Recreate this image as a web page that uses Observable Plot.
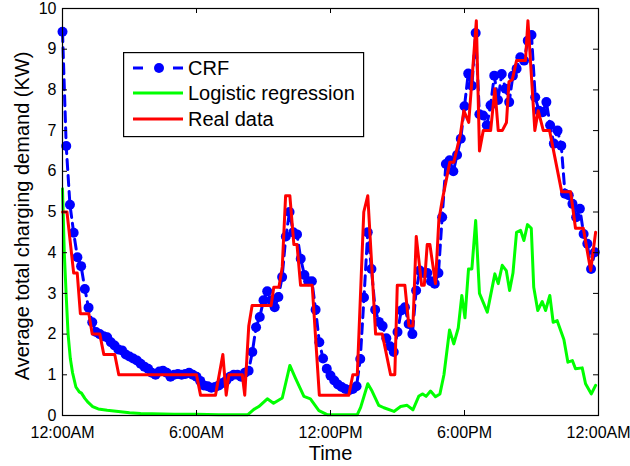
<!DOCTYPE html>
<html>
<head>
<meta charset="utf-8">
<script src="https://cdn.jsdelivr.net/npm/d3@7"></script>
<script src="https://cdn.jsdelivr.net/npm/@observablehq/plot@0.6"></script>
<style>
  html, body { margin: 0; padding: 0; background: white; }
  #wrap { position: relative; width: 630px; height: 466px; font-family: "Liberation Sans", Arial, Helvetica, sans-serif; }
  #legend { position: absolute; left: 123px; top: 52px; }
</style>
</head>
<body>
<div id="wrap"></div>
<script>
// ---- Tick values and labels ----
const xTicks = [0, 6, 12, 18, 24];
const xTickLabels = ["12:00AM", "6:00AM", "12:00PM", "6:00PM", "12:00AM"];
const yTicks = [0, 1, 2, 3, 4, 5, 6, 7, 8, 9, 10];

// ---- Series names ----
const seriesNames = ["CRF", "Logistic regression", "Real data"];

// ---- CRF (10-minute samples, value in KW) ----
const crfValues = [
  9.43, 6.62, 5.18, 4.49, 3.89, 3.67, 3.11, 2.65, 2.29, 2.05,
  2.0, 1.95, 1.92, 1.8, 1.72, 1.62, 1.6, 1.5, 1.45, 1.4,
  1.35, 1.27, 1.2, 1.15, 1.05, 1.0, 1.08, 1.1, 1.05, 0.95,
  1.0, 1.02, 1.0, 1.02, 1.05, 1.0, 0.95, 0.85, 0.74, 0.72,
  0.68, 0.7, 0.74, 0.8, 0.86, 0.95, 1.0, 1.0, 0.95, 1.05,
  1.1, 1.56, 2.17, 2.42, 2.83, 3.05, 2.83, 2.66, 2.91, 3.4,
  4.4, 5.0, 4.5, 4.45, 3.85, 3.45, 3.3, 3.3, 2.6, 1.8,
  1.4, 1.15, 0.98, 0.86, 0.76, 0.7, 0.65, 0.62, 0.65, 0.72,
  1.39, 2.9, 4.5, 3.6, 2.6, 2.3, 2.2, 1.9, 1.7, 1.56,
  2.05, 2.58, 2.66, 2.25, 2.0, 3.07, 3.56, 3.5, 3.5, 3.3,
  3.24, 3.5, 4.87, 6.18, 6.27, 6.0, 6.4, 6.8, 7.6, 8.4,
  8.1, 9.4, 7.4, 7.37, 7.13, 7.62, 8.35, 7.75, 8.39, 8.03,
  7.7, 8.35, 8.52, 8.8, 8.72, 9.21, 9.35, 7.82, 7.49, 7.45,
  7.7, 7.13, 6.68, 7.0, 6.63, 5.45, 5.41, 5.2, 4.87, 5.08,
  4.46, 4.22, 3.6, 4.01
];
const crfHours = crfValues.map((_, i) => i / 6);

// ---- Logistic regression ----
const lrHours = [
  0, 0.08, 0.17, 0.25, 0.35, 0.45, 0.6, 0.75, 0.85, 1.0,
  1.15, 1.35, 1.6, 2.0, 2.5, 3.0, 3.5, 4.0, 5.0, 6.0,
  7.0, 8.3, 8.57, 8.79, 9.17, 9.45, 9.84, 10.18, 10.43, 10.81,
  11.1, 11.48, 11.85, 13.2, 13.35, 13.67, 13.86, 14.16, 14.39, 14.84,
  15.14, 15.43, 15.69, 15.96, 16.13, 16.28, 16.48, 16.7, 16.9, 17.08,
  17.33, 17.52, 17.72, 17.88, 18.02, 18.18, 18.33, 18.5, 18.67, 19.02,
  19.36, 19.51, 19.69, 19.87, 20.02, 20.17, 20.33, 20.51, 20.66, 20.82,
  20.99, 21.1, 21.28, 21.48, 21.63, 21.82, 21.97, 22.15, 22.45, 22.63,
  22.83, 22.97, 23.27, 23.42, 23.68, 23.87
];
const lrValues = [
  5.57, 4.0, 2.9, 2.0, 1.4, 1.05, 0.7, 0.58, 0.55, 0.42,
  0.32, 0.22, 0.16, 0.13, 0.1, 0.07, 0.05, 0.04, 0.03, 0.03,
  0.02, 0.02, 0.15, 0.22, 0.41, 0.3, 0.43, 1.23, 0.92, 0.47,
  0.41, 0.12, 0.02, 0.02, 0.2, 0.78, 0.6, 0.25, 0.19, 0.1,
  0.22, 0.25, 0.14, 0.48, 0.53, 0.47, 0.6, 0.46, 0.53, 1.0,
  2.1, 1.76, 2.15, 2.95, 2.4, 3.6, 3.6, 4.79, 3.0, 2.54,
  3.48, 3.24, 3.69, 3.56, 3.07, 3.5, 4.5, 4.55, 4.3, 4.69,
  4.6, 3.15, 2.58, 2.8, 2.58, 2.95, 2.29, 2.33, 1.87, 1.31,
  1.35, 1.15, 1.17, 0.78, 0.53, 0.74
];

// ---- Real data ----
const realHours = [
  0, 0.2, 0.5, 0.66, 0.8, 1.18, 1.33, 1.67, 1.85, 2.34,
  2.52, 6.0, 6.18, 6.85, 7.18, 7.33, 7.45, 8.05, 8.16, 8.34,
  8.49, 9.34, 9.46, 9.69, 9.84, 9.99, 10.18, 10.36, 10.5, 10.66,
  11.18, 11.5, 12.82, 13.0, 13.2, 13.49, 13.67, 14.02, 14.32, 14.69,
  14.88, 14.99, 15.33, 15.51, 15.69, 15.84, 16.08, 16.2, 16.33, 16.45,
  16.7, 16.85, 17.0, 17.34, 17.52, 17.82, 17.97, 18.19, 18.53, 18.67,
  18.84, 19.17, 19.36, 19.51, 19.69, 19.88, 19.99, 20.14, 20.33, 20.73,
  20.84, 21.15, 21.3, 21.53, 21.81, 22.35, 22.75, 22.97, 23.32, 23.65,
  23.87
];
const realValues = [
  5.0, 5.0, 3.5, 3.5, 2.5, 2.5, 2.0, 2.0, 1.5, 1.5,
  1.0, 1.0, 0.5, 0.5, 1.5, 0.5, 1.0, 1.0, 0.5, 2.2,
  2.7, 2.7, 3.15, 3.15, 3.65, 5.4, 5.4, 4.2, 4.2, 3.2,
  3.2, 0.5, 0.5, 1.0, 1.0, 5.0, 5.4, 2.0, 2.0, 1.0,
  1.0, 3.2, 3.2, 2.2, 2.2, 4.4, 3.2, 3.2, 4.2, 4.2,
  3.24, 4.79, 5.28, 6.22, 6.22, 6.92, 7.49, 7.2, 9.7, 6.5,
  7.0, 7.0, 8.03, 7.0, 7.0, 7.2, 8.2, 8.25, 8.72, 8.72,
  9.7, 7.0, 7.49, 7.0, 7.0, 5.5, 5.5, 4.6, 4.6, 3.56,
  4.5
];

const crf = crfHours.map((h, i) => ({h, v: crfValues[i]}));
const lr = lrHours.map((h, i) => ({h, v: lrValues[i]}));
const real = realHours.map((h, i) => ({h, v: realValues[i]}));

const W = 630, H = 466, mL = 62, mR = 32, mT = 8, mB = 51;
const fw = W - mL - mR, fh = H - mT - mB, tick = 5;
const font = "'Liberation Sans', Arial, Helvetica, sans-serif";

const chart = Plot.plot({
  width: W, height: H,
  marginLeft: mL, marginRight: mR, marginTop: mT, marginBottom: mB,
  x: {domain: [0, 24]},
  y: {domain: [0, 10]},
  style: {fontFamily: font, fontSize: "16px", color: "black", background: "white"},
  marks: [
    Plot.line(crf, {x: "h", y: "v", stroke: "#0000ff", strokeWidth: 3, strokeDasharray: "10,6"}),
    Plot.dot(crf, {x: "h", y: "v", r: 5, fill: "#0000ff", stroke: "none"}),
    Plot.line(lr, {x: "h", y: "v", stroke: "#00ff00", strokeWidth: 3}),
    Plot.line(real, {x: "h", y: "v", stroke: "#ff0000", strokeWidth: 3}),
    // inward ticks on all four sides
    Plot.ruleX(xTicks, {x: d => d, insetTop: fh - tick, stroke: "black"}),
    Plot.ruleX(xTicks, {x: d => d, insetBottom: fh - tick, stroke: "black"}),
    Plot.ruleY(yTicks, {y: d => d, insetRight: fw - tick, stroke: "black"}),
    Plot.ruleY(yTicks, {y: d => d, insetLeft: fw - tick, stroke: "black"}),
    Plot.frame({stroke: "black", strokeWidth: 1.2}),
    Plot.axisX(xTicks, {tickSize: 0, tickPadding: 11, tickFormat: d => xTickLabels[xTicks.indexOf(d)], label: null, fontSize: 16}),
    Plot.axisY(yTicks, {tickSize: 0, tickPadding: 6, tickFormat: d => String(d), label: null, fontSize: 16}),
    Plot.text(["Time"], {frameAnchor: "bottom", lineAnchor: "middle", textAnchor: "middle", dy: 38, fontSize: 20, text: d => d}),
    Plot.text(["Average total charging demand (KW)"], {frameAnchor: "left", lineAnchor: "middle", textAnchor: "middle", rotate: -90, dx: -40, dy: 4, fontSize: 20, text: d => d})
  ]
});

const wrap = document.getElementById("wrap");
wrap.appendChild(chart);

// ---- Legend (overlay box) ----
const colors = ["#0000ff", "#00ff00", "#ff0000"];
const lg = d3.select(wrap).append("svg")
  .attr("id", "legend").attr("width", 242).attr("height", 86)
  .style("font-family", font);
lg.append("rect").attr("x", 0.6).attr("y", 0.6).attr("width", 240).attr("height", 84)
  .attr("fill", "white").attr("stroke", "black").attr("stroke-width", 1.2);
const rowY = [16, 41, 67];
seriesNames.forEach((name, i) => {
  const y = rowY[i];
  if (i === 0) {
    lg.append("line").attr("x1", 10).attr("x2", 20).attr("y1", y).attr("y2", y).attr("stroke", colors[i]).attr("stroke-width", 3);
    lg.append("line").attr("x1", 50).attr("x2", 60).attr("y1", y).attr("y2", y).attr("stroke", colors[i]).attr("stroke-width", 3);
    lg.append("circle").attr("cx", 36).attr("cy", y).attr("r", 5).attr("fill", colors[i]);
  } else {
    lg.append("line").attr("x1", 10).attr("x2", 60).attr("y1", y).attr("y2", y).attr("stroke", colors[i]).attr("stroke-width", 3);
  }
  lg.append("text").attr("x", 65).attr("y", y).attr("dy", "0.35em")
    .attr("font-size", 20).attr("fill", "black").text(name);
});
</script>
</body>
</html>
